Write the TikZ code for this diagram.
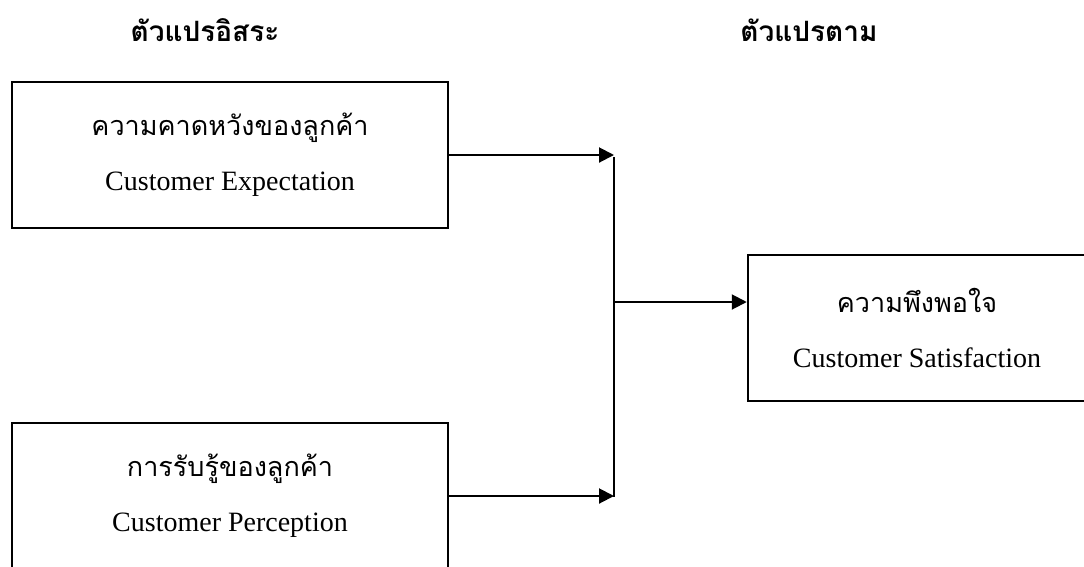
\documentclass[tikz,border=0pt]{standalone}
\usepackage{fontspec}
\setmainfont{Liberation Serif}
\newfontfamily\thaifont[Script=Thai]{Loma}
\newcommand{\thaiword}[1]{{\thaifont\fontsize{27}{30}\selectfont #1}}
\usetikzlibrary{arrows.meta}

\begin{document}
\begin{tikzpicture}[x=1pt, y=-1pt,
                        every node/.style={font=\fontsize{28}{30}\selectfont},
                        var box/.style={rectangle, draw, line width=2.5pt, align=center, inner sep=0pt, minimum height=146pt},
                        heading/.style={font=\thaifont\bfseries\fontsize{28}{30}\selectfont},
                        flow/.style={line width=2pt, -{Triangle[length=15pt, width=15pt]}}
                    ]

    % keep the page size of the reference
    \useasboundingbox (0,0) rectangle (1084,566);
    \clip (0,0) rectangle (1084,566);

    % Column headings
    \node[heading] (indep) at (205, 30) {ตัวแปรอิสระ};
    \node[heading] (dep) at (809, 30) {ตัวแปรตาม};

    % Independent variables
    \node[var box, minimum width=436pt] (expect) at (230, 155) {\thaiword{ความคาดหวังของลูกค้า}\\[25pt] Customer Expectation};
    \node[var box, minimum width=436pt] (percept) at (230, 496) {\thaiword{การรับรู้ของลูกค้า}\\[25pt] Customer Perception};

    % Dependent variable
    \node[var box, minimum width=338pt] (satisf) at (917, 328) {\thaiword{ความพึงพอใจ}\\[25pt] Customer Satisfaction};

    % Joining line
    \coordinate (join top) at (614, 157);
    \coordinate (join bottom) at (614, 497);
    \coordinate (join mid) at (614, 302);
    \draw[line width=2pt] (join top) -- (join bottom);

    % Edges between nodes
    \draw[flow] (expect.east) -- (expect.east -| join top);
    \draw[flow] (percept.east) -- (percept.east -| join top);
    \draw[flow] (join mid) -- (join mid -| satisf.west);

\end{tikzpicture}
\end{document}
